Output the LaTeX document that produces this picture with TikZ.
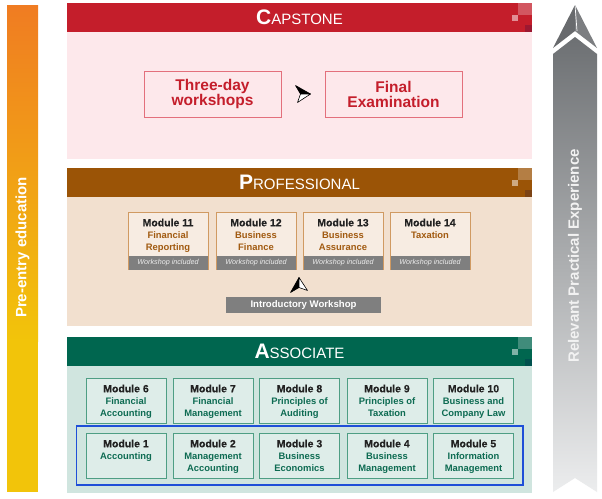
\documentclass[tikz,border=0pt]{standalone}
\usepackage{fontspec}
\setmainfont{Liberation Sans}
\newfontfamily\medfont[FakeBold=0.06]{Liberation Sans}
\usetikzlibrary{positioning,fit,calc}
\definecolor{capred}{HTML}{C41E2B}
\definecolor{cappink}{HTML}{FDE8EB}
\definecolor{capline}{HTML}{E3707C}
\definecolor{probrown}{HTML}{9B5406}
\definecolor{probody}{HTML}{F2E0CF}
\definecolor{proline}{HTML}{D09A62}
\definecolor{protext}{HTML}{A15A10}
\definecolor{asogreen}{HTML}{00664F}
\definecolor{asobody}{HTML}{D0E5DF}
\definecolor{asoline}{HTML}{4E9E84}
\definecolor{asotext}{HTML}{0D6B52}
\definecolor{ink}{HTML}{222222}
\definecolor{bandgray}{HTML}{7F7F7F}
\definecolor{coreblue}{HTML}{1F4FD8}
\definecolor{barorange}{HTML}{F07C22}
\definecolor{baryellow}{HTML}{F2C40A}
\definecolor{exptop}{HTML}{6D7073}
\definecolor{expbot}{HTML}{ECEDEE}
\tikzstyle{headtxt}=[text=white, inner sep=0pt, font=\fontsize{15}{15}\selectfont]
\tikzstyle{capbox}=[draw=capline, fill=cappink, line width=1pt, minimum width=137pt, minimum height=46pt, align=center, text=capred, font=\fontsize{15.5}{15}\selectfont\bfseries]
\tikzstyle{probox}=[draw=proline, fill=probody!60!white, line width=1pt, minimum width=80pt, minimum height=57pt, inner sep=0pt]
\tikzstyle{asobox}=[draw=asoline, fill=asobody!70!white, line width=1pt, minimum width=80pt, minimum height=45pt, inner sep=0pt]
\tikzstyle{band}=[fill=bandgray, minimum width=79pt, minimum height=13.5pt, inner sep=0pt, text=white!93!black, font=\fontsize{7.2}{7.2}\selectfont\itshape]
\tikzstyle{modtxt}=[align=center, anchor=north, inner sep=0pt, font=\fontsize{9.4}{12}\selectfont\bfseries]
\tikzstyle{sidetxt}=[rotate=90, text=white, inner sep=0pt, font=\fontsize{15}{15}\selectfont\bfseries]
\newcommand{\stage}[7]{
	\fill[#2] (67,#3) rectangle (532,#4);
	\fill[#1] (67,#3) rectangle (532,#3+29);
	\fill[white, opacity=.25] (518,#3) rectangle (532,#3+12);
	\fill[white, opacity=.5] (512,#3+12) rectangle (518,#3+18);
	\fill[blue!30!black, opacity=.2] (525,#3+22) rectangle (532,#3+29);
	\node[headtxt] (#5) at (299.5,#3+14.5) {{\fontsize{21}{21}\selectfont\bfseries #6}#7};
}
\newcommand{\navarrow}[2]{
	\begin{scope}[shift={#1}, rotate=#2]
		\filldraw[black, line width=.6pt, line join=round] (7.5,0) -- (-7.5,-8.5) -- (-2.5,0) -- cycle;
		\filldraw[white, draw=black, line width=.6pt, line join=round] (7.5,0) -- (-2.5,0) -- (-5.5,8.5) -- cycle;
	\end{scope}
}

\begin{document}
\begin{tikzpicture}[x=1pt, y=-1pt]
	\useasboundingbox (0,0) rectangle (602,498);
	\fill[white] (0,0) rectangle (602,498);
%	pre-entry bar
	\shade[top color=barorange, bottom color=baryellow] (7,5) rectangle (38,341);
	\fill[baryellow] (7,340) rectangle (38,492);
	\node[sidetxt] (pre) at (22.5,247.5) {Pre-entry education};
%	experience arrow
	\shade[top color=exptop, bottom color=expbot] (553,54) -- (575,37) -- (597,54) -- (597,492) -- (575,478) -- (553,492) -- cycle;
	\fill[exptop!95!black] (575,5) -- (575,31) -- (553,48) -- cycle;
	\fill[exptop!90!white] (575,5) -- (597,48) -- (575,31) -- cycle;
	\draw[white, line width=.7pt] (575,5) -- (577,31);
	\node[sidetxt, text=white!90!gray] (rpe) at (575,256) {Relevant Practical Experience};
%
	\stage{capred}{cappink}{3}{159}{caphead}{C}{APSTONE}
	\node[capbox] (tw) at (212.5,94) {Three-day\\workshops};
	\node[capbox] (fe) at (393.5,94) {Final\\Examination};
	\navarrow{($(tw)!.5!(fe)$)}{0}
%
	\stage{probrown}{probody}{168}{326}{prohead}{P}{ROFESSIONAL}
	\foreach \n/\x/\t in {11/168/Financial\\Reporting, 12/256/Business\\Finance, 13/343/Business\\Assurance, 14/430/Taxation}{
		\node[probox] (m\n) at (\x,240.5) {};
		\node[band, anchor=south] (w\n) at ([yshift=-.5pt]m\n.south) {Workshop included};
		\node[modtxt, text=protext, below=7pt of m\n.north] (t\n) {{\fontsize{10.5}{12}\medfont\color{ink}Module \n}\\\t};
	}
	\node[fill=bandgray, minimum width=155pt, minimum height=16pt, inner sep=0pt, text=white, font=\fontsize{9.6}{9.6}\selectfont\bfseries] (intro) at (303.5,305) {Introductory Workshop};
	\navarrow{(299,285)}{90}
%
	\stage{asogreen}{asobody}{337}{493}{asohead}{A}{SSOCIATE}
	\foreach \n/\x/\y/\t in {6/126/400.5/Financial\\Accounting, 7/213/400.5/Financial\\Management, 8/299.5/400.5/Principles of\\Auditing, 9/387/400.5/Principles of\\Taxation, 10/473.5/400.5/Business and\\Company Law, 1/126/455.5/Accounting, 2/213/455.5/Management\\Accounting, 3/299.5/455.5/Business\\Economics, 4/387/455.5/Business\\Management, 5/473.5/455.5/Information\\Management}{
		\node[asobox] (m\n) at (\x,\y) {};
		\node[modtxt, text=asotext, below=7pt of m\n.north] (t\n) {{\fontsize{10.5}{12}\medfont\color{ink}Module \n}\\\t};
	}
	\node[draw=coreblue, line width=1.6pt, fit=(m1)(m5), inner xsep=9pt, inner ysep=6.5pt] (core) {};
\end{tikzpicture}
\end{document}
